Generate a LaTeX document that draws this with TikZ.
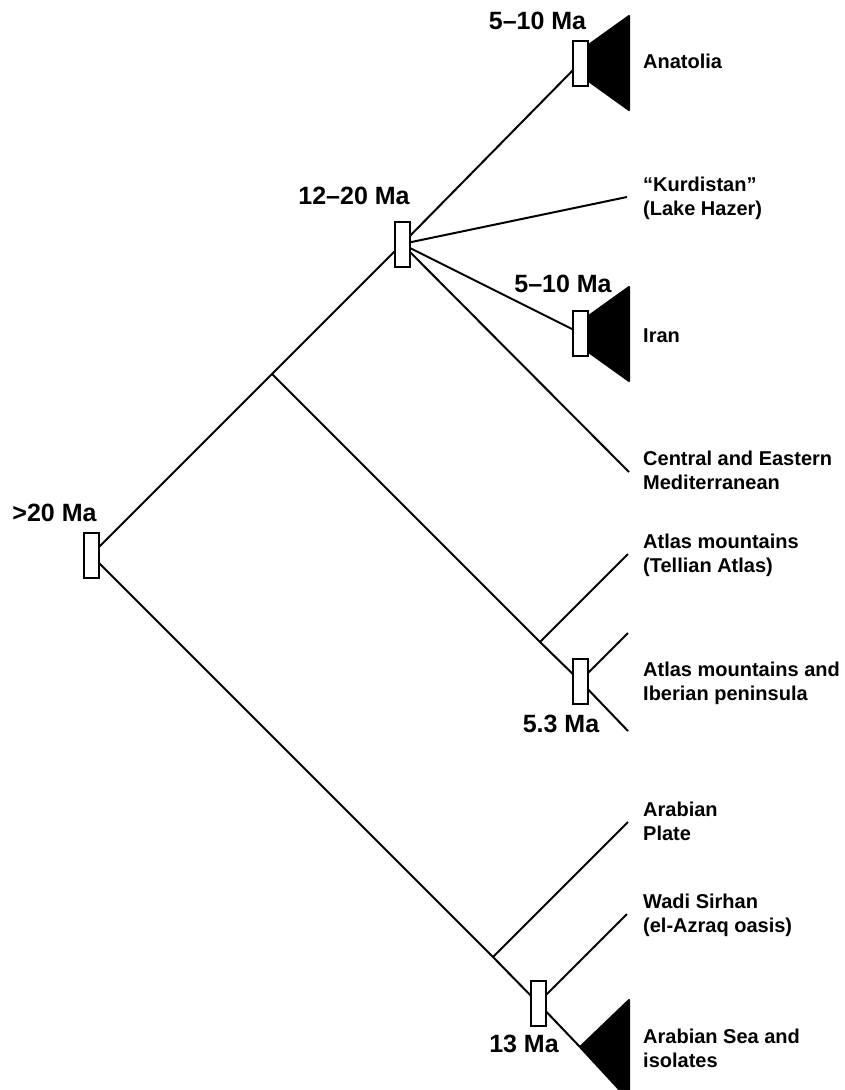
\documentclass[tikz,border=0pt]{standalone}
\usepackage{fontspec}
\setmainfont{Liberation Sans}
\usetikzlibrary{backgrounds}
\begin{document}
\begin{tikzpicture}[x=1pt,y=-1pt,
  agebox/.style={draw, fill=white, line width=2pt, minimum width=15pt, minimum height=45pt, inner sep=0pt},
  branch/.style={line width=2pt},
  clade/.style={fill=black, draw=black, line width=2pt, line join=round},
  hdr/.style={font=\fontsize{25}{28}\selectfont\bfseries, inner sep=0pt, anchor=base},
  lbl/.style={font=\fontsize{20}{23.5}\selectfont\bfseries, align=left, anchor=base west, inner sep=0pt}]
\clip (0,0) rectangle (844,1090);
% age boxes
\node[agebox] (root) at (91,555) {};
\node[agebox] (b1220) at (402,244) {};
\node[agebox] (anat) at (580,63) {};
\node[agebox] (iran) at (580,333) {};
\node[agebox] (b53) at (580,681) {};
\node[agebox] (b13) at (538,1003) {};
% branch points and tips
\coordinate (s1) at (272,374);
\coordinate (s2) at (540,642);
\coordinate (s3) at (493,957);
\coordinate (tKurd) at (627,197);
\coordinate (tCent) at (629,472);
\coordinate (tTell) at (628,554);
\coordinate (tAtlA) at (628,633);
\coordinate (tAtlB) at (628,731);
\coordinate (tArab) at (628,822);
\coordinate (tWadi) at (627,914);
\coordinate (tSea) at (580,1047);
\begin{pgfonlayer}{background}
\fill[white] (0,0) rectangle (844,1090);
\draw[branch] (root.center) -- (s1) -- (b1220.center);
\draw[branch] (s1) -- (s2) -- (b53.center);
\draw[branch] (s2) -- (tTell);
\draw[branch] (tAtlA) -- (b53.center) -- (tAtlB);
\draw[branch] (b1220.center) -- (anat.center);
\draw[branch] (b1220.center) -- (tKurd);
\draw[branch] (b1220.center) -- (iran.center);
\draw[branch] (b1220.center) -- (tCent);
\draw[branch] (root.center) -- (s3) -- (b13.center);
\draw[branch] (s3) -- (tArab);
\draw[branch] (b13.center) -- (tWadi);
\draw[branch] (b13.center) -- (tSea);
% collapsed clades (left ends hidden behind the age boxes)
\draw[clade] (576,54) -- (629,16) -- (629,110) -- (576,72) -- cycle;
\draw[clade] (576,325) -- (629,287) -- (629,381) -- (576,343) -- cycle;
\draw[clade] (tSea) -- (629,1000) -- (629,1100) -- cycle;
\end{pgfonlayer}
% ages
\node[hdr] (a1) at (537.5,29) {5–10 Ma};
\node[hdr] (a2) at (354,204) {12–20 Ma};
\node[hdr] (a3) at (563,292) {5–10 Ma};
\node[hdr] (a4) at (54.5,521) {>20 Ma};
\node[hdr] (a5) at (561,732) {5.3 Ma};
\node[hdr] (a6) at (524,1052) {13 Ma};
% taxa (base = last line)
\node[lbl] (l1) at (643,68) {Anatolia};
\node[lbl] (l2) at (643,215) {“Kurdistan”\\(Lake Hazer)};
\node[lbl] (l3) at (643,342) {Iran};
\node[lbl] (l4) at (643,489) {Central and Eastern\\Mediterranean};
\node[lbl] (l5) at (643,572) {Atlas mountains\\(Tellian Atlas)};
\node[lbl] (l6) at (643,700) {Atlas mountains and\\Iberian peninsula};
\node[lbl] (l7) at (643,840) {Arabian\\Plate};
\node[lbl] (l8) at (643,932) {Wadi Sirhan\\(el-Azraq oasis)};
\node[lbl] (l9) at (643,1067) {Arabian Sea and\\isolates};
\end{tikzpicture}
\end{document}
